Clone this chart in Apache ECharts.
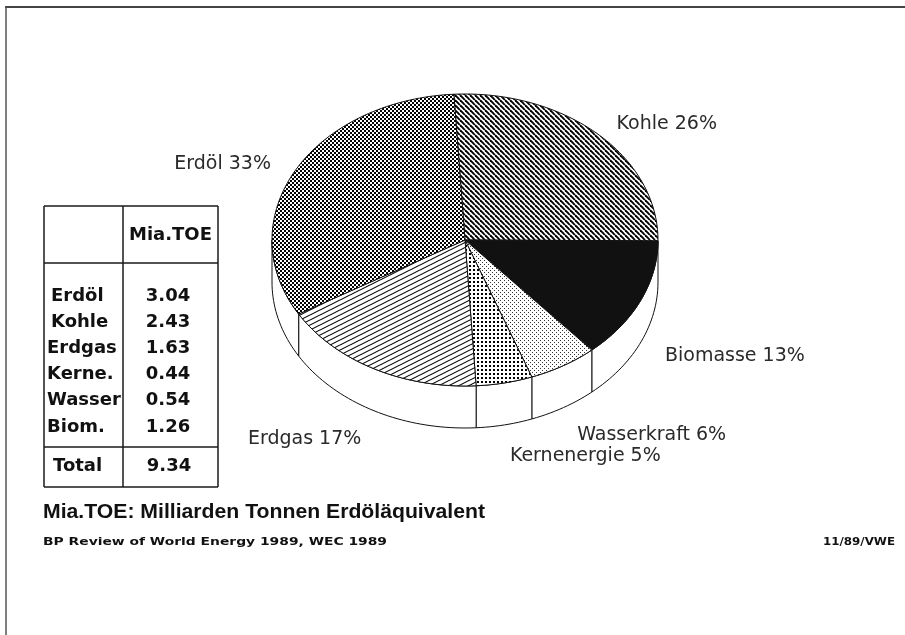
<!DOCTYPE html>
<html><head><meta charset="utf-8">
<script src="https://cdn.jsdelivr.net/npm/echarts@6/dist/echarts.min.js"></script>
<style>html,body{margin:0;padding:0;background:#fff}#c{width:905px;height:635px}</style>
</head><body><div id="c"></div>
<script>
// ---- data ----
const sliceNames = ['Kohle', 'Biomasse', 'Wasserkraft', 'Kernenergie', 'Erdgas', 'Erdöl'];
const sliceValues = [2.43, 1.26, 0.54, 0.44, 1.63, 3.04];
const tableRows = ['Erdöl', 'Kohle', 'Erdgas', 'Kerne.', 'Wasser', 'Biom.'];
const tableValues = [3.04, 2.43, 1.63, 0.44, 0.54, 1.26];
const tableHeader = 'Mia.TOE';
const totalLabel = 'Total';
const captionText = 'Mia.TOE: Milliarden Tonnen Erdöläquivalent';
const sourceText = 'BP Review of World Energy 1989, WEC 1989';
const codeText = '11/89/VWE';

// ---- layout ----
const CX = 465, CY = 240, RX = 193, RY = 146, DEPTH = 42, START = -3.3;
const total = sliceValues.reduce((a, b) => a + b, 0);
const cum = []; { let acc = 0; sliceValues.forEach(v => { cum.push(acc); acc += v; }); }

function tile(w, h, draw) {
  const c = document.createElement('canvas'); c.width = w; c.height = h;
  const ctx = c.getContext('2d'); ctx.fillStyle = '#fff'; ctx.fillRect(0, 0, w, h);
  draw(ctx); return { image: c, repeat: 'repeat' };
}
const patKohle = tile(5, 5, ctx => {
  ctx.strokeStyle = '#000'; ctx.lineWidth = 1.9;
  for (let k = -1; k <= 1; k++) { ctx.beginPath(); ctx.moveTo(k * 5, 0); ctx.lineTo(k * 5 + 5, 5); ctx.stroke(); }
});
const patErdgas = tile(10, 5, ctx => {
  ctx.strokeStyle = '#000'; ctx.lineWidth = 1.1;
  [0, 5, 10].forEach(c => { ctx.beginPath(); ctx.moveTo(-2, c + 1); ctx.lineTo(12, c - 6); ctx.stroke(); });
});
const patErdoel = tile(4, 4, ctx => {
  ctx.fillStyle = '#000'; ctx.fillRect(0, 0, 4, 4);
  ctx.fillStyle = '#fff'; ctx.fillRect(0, 0, 2, 2); ctx.fillRect(2, 2, 2, 2);
});
const patKern = tile(4, 4, ctx => { ctx.fillStyle = '#000'; ctx.fillRect(1, 1, 2, 2); });
const patWasser = tile(4, 4, ctx => { ctx.fillStyle = '#333'; ctx.fillRect(0, 0, 1, 1); ctx.fillRect(2, 2, 1, 1); });
const fills = [patKohle, '#111', patWasser, patKern, patErdgas, patErdoel];

function pt(deg, dy) { const r = deg * Math.PI / 180; return [CX + RX * Math.sin(r), CY - RY * Math.cos(r) + (dy || 0)]; }
function arc(a0, a1, dy) {
  const pts = []; const n = Math.max(2, Math.ceil(Math.abs(a1 - a0) / 1.5));
  for (let i = 0; i <= n; i++) pts.push(pt(a0 + (a1 - a0) * i / n, dy));
  return pts;
}
const labelFont = '19px "DejaVu Sans"';

function renderItem(params, api) {
  const i = params.dataIndex;
  const v = api.value(0);
  const a0 = START + cum[i] / total * 360, a1 = a0 + v / total * 360;
  const children = [];
  const s0 = Math.max(a0, 90), s1 = Math.min(a1, 270);
  if (s1 - s0 > 0.5) {
    children.push({ type: 'polygon', shape: { points: arc(s0, s1, 0).concat(arc(s1, s0, DEPTH)) },
      style: { fill: '#fff', stroke: '#111', lineWidth: 1 } });
  }
  children.push({ type: 'polygon', shape: { points: [[CX, CY]].concat(arc(a0, a1, 0)) },
    style: { fill: fills[i], stroke: '#111', lineWidth: 1 } });
  const mid = (a0 + a1) / 2 * Math.PI / 180;
  const s = Math.sin(mid), c = Math.cos(mid);
  const lx = CX + 1.14 * RX * s;
  const ly = c >= 0 ? CY - 1.1 * RY * c : CY + 1.22 * RY * (-c) + DEPTH;
  const pct = Math.round(v / total * 100);
  children.push({ type: 'text', x: lx, y: ly,
    style: { text: sliceNames[i] + ' ' + pct + '%', font: labelFont, fill: '#2a2a2a',
      align: s > 0 ? 'left' : 'right', textAlign: s > 0 ? 'left' : 'right',
      verticalAlign: 'middle', textVerticalAlign: 'middle' } });
  return { type: 'group', children };
}

// measure helper for stretched text
const mctx = document.createElement('canvas').getContext('2d');
function fitScale(text, font, width) { mctx.font = font; return width / mctx.measureText(text).width; }

// ---- table graphics ----
const T = { x0: 44, x1: 123, x2: 218, y0: 206, yh: 263, yt: 447, y1: 487, row0: 296, rowStep: 26.2, yTotal: 466 };
const tFont = 'bold 18px "DejaVu Sans"';
const graphics = [];
const line = (x1, y1, x2, y2, w, col) => graphics.push({ type: 'line', shape: { x1, y1, x2, y2 }, style: { stroke: col || '#1a1a1a', lineWidth: w || 1.5 }, silent: true });
line(T.x0, T.y0, T.x2, T.y0); line(T.x0, T.y1, T.x2, T.y1);
line(T.x0, T.y0, T.x0, T.y1); line(T.x2, T.y0, T.x2, T.y1);
line(T.x1, T.y0, T.x1, T.y1); line(T.x0, T.yh, T.x2, T.yh); line(T.x0, T.yt, T.x2, T.yt);
const txt = (text, x, y, font, align, extra) => graphics.push(Object.assign({ type: 'text', x, y, silent: true,
  style: { text, font, fill: '#111', align, verticalAlign: 'middle' } }, extra || {}));
txt(tableHeader, (T.x1 + T.x2) / 2, 235, tFont, 'center');
tableRows.forEach((r, i) => {
  const y = T.row0 + i * T.rowStep;
  txt(r, i < 2 ? 51 : 47, y, tFont, 'left');
  txt(tableValues[i].toFixed(2), 168, y, tFont, 'center');
});
txt(totalLabel, 53, T.yTotal, tFont, 'left');
txt(total.toFixed(2), 169, T.yTotal, tFont, 'center');

// captions
const capFont = 'bold 21px "Liberation Sans"';
txt(captionText, 43, 512, capFont, 'left', { scaleX: fitScale(captionText, capFont, 442) });
const srcFont = 'bold 11px "DejaVu Sans"';
txt(sourceText, 43, 542, srcFont, 'left', { scaleX: fitScale(sourceText, srcFont, 344) });
txt(codeText, 895, 542, srcFont, 'right', { scaleX: fitScale(codeText, srcFont, 72) });

// frame
line(5, 7, 905, 7, 2, '#444');
line(6, 7, 6, 635, 1.5, '#555');

const chart = echarts.init(document.getElementById('c'), null, { renderer: 'canvas' });
chart.setOption({
  animation: false,
  backgroundColor: '#fff',
  graphic: graphics,
  series: [{
    type: 'custom',
    coordinateSystem: 'none',
    renderItem,
    data: sliceValues.map((v, i) => ({ name: sliceNames[i], value: [v] }))
  }]
});
</script></body></html>
